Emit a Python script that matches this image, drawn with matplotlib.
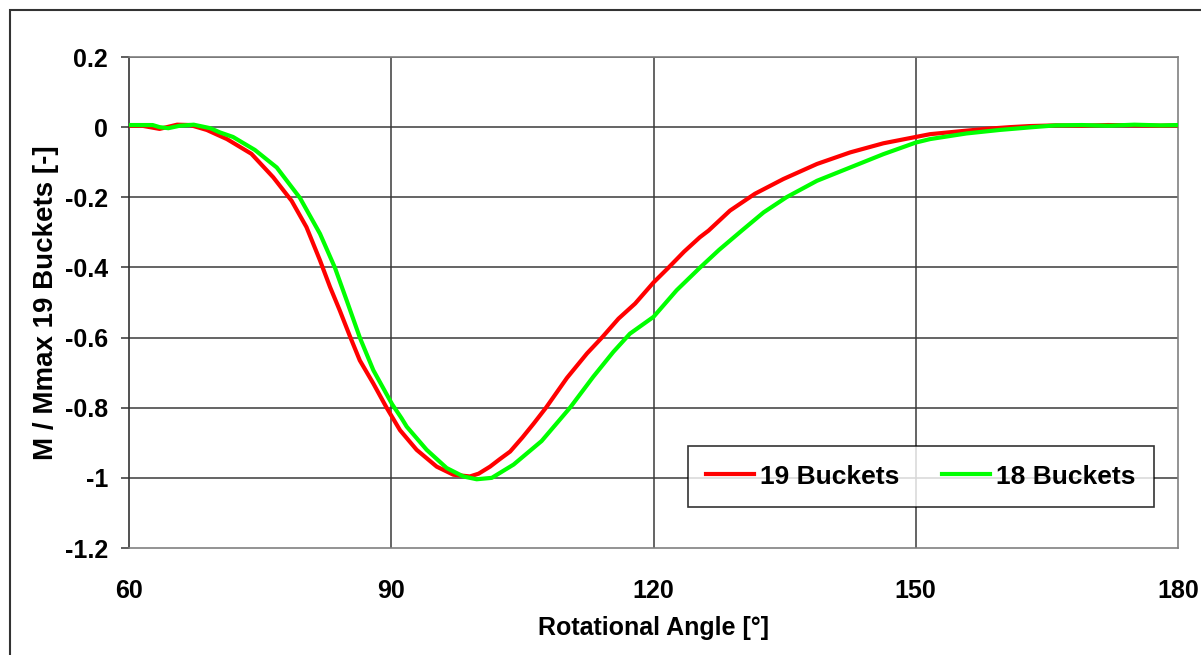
import matplotlib
matplotlib.use("Agg")
import matplotlib.pyplot as plt
from matplotlib.patches import Rectangle

# ---- data ----
angle_19 = [60.0, 61.5, 63.5, 65.5, 67.0, 68.9, 70.4, 71.2, 74.0, 76.5, 78.6, 80.3,
            81.85, 83.0, 84.1, 85.3, 86.4, 87.95, 89.47, 91.0, 92.9, 95.2, 97.1, 99.0,
            100.0, 101.3, 102.4, 103.6, 105.0, 106.3, 107.7, 110.1, 112.4, 114.1, 116.0,
            117.9, 120.0, 121.7, 123.5, 125.3, 126.3, 128.75, 131.6, 134.85, 138.7, 142.5,
            146.3, 150.0, 151.65, 155.8, 158.5, 160.8, 163.0, 166.0, 169.0, 172.0, 175.0,
            178.0, 180.0]
m_19 = [0.004, 0.004, -0.005, 0.007, 0.006, -0.008, -0.025, -0.034, -0.076, -0.143, -0.21,
        -0.285, -0.38, -0.456, -0.522, -0.598, -0.665, -0.731, -0.8, -0.864, -0.92, -0.968,
        -0.991, -0.996, -0.988, -0.968, -0.947, -0.925, -0.885, -0.845, -0.8, -0.715, -0.645,
        -0.6, -0.546, -0.503, -0.443, -0.401, -0.355, -0.314, -0.295, -0.238, -0.19, -0.148,
        -0.105, -0.072, -0.046, -0.028, -0.02, -0.01, -0.004, 0.0, 0.003, 0.005, 0.004,
        0.006, 0.005, 0.004, 0.005]

angle_18 = [60.0, 61.5, 62.7, 63.5, 64.5, 65.8, 67.4, 69.3, 70.4, 71.9, 74.4, 76.9, 79.56,
            81.85, 83.56, 84.9, 86.42, 87.95, 90.1, 91.18, 91.77, 94.05, 96.34, 98.25, 99.77,
            101.5, 104.0, 107.2, 110.45, 113.1, 115.4, 117.3, 120.0, 122.65, 125.3, 127.5,
            130.1, 132.6, 135.2, 138.7, 142.5, 146.3, 150.0, 151.65, 155.8, 159.6, 163.4,
            166.0, 169.0, 172.0, 175.0, 178.0, 180.0]
m_18 = [0.006, 0.006, 0.006, 0.0, -0.003, 0.004, 0.007, -0.003, -0.015, -0.028, -0.065,
        -0.115, -0.202, -0.304, -0.401, -0.494, -0.601, -0.693, -0.79, -0.83, -0.854, -0.92,
        -0.972, -0.996, -1.004, -1.0, -0.962, -0.895, -0.8, -0.712, -0.641, -0.589, -0.541,
        -0.465, -0.401, -0.35, -0.295, -0.243, -0.2, -0.153, -0.115, -0.077, -0.044, -0.034,
        -0.018, -0.008, 0.0, 0.005, 0.006, 0.004, 0.007, 0.005, 0.006]

x_ticks = [60, 90, 120, 150, 180]
y_ticks = [0.2, 0, -0.2, -0.4, -0.6, -0.8, -1, -1.2]
y_tick_labels = ["0.2", "0", "-0.2", "-0.4", "-0.6", "-0.8", "-1", "-1.2"]

plt.rcParams['font.family'] = ['Liberation Sans', 'DejaVu Sans']
plt.rcParams['font.weight'] = 'bold'
FS = 18

W, H = 1201, 655
fig = plt.figure(figsize=(W / 100, H / 100), dpi=100)
fig.patch.set_facecolor('white')

# outer chart border (cut off at right/bottom like the reference)
fig.patches.append(Rectangle((10 / W, -0.2), 1.2, (1 - 10 / H) + 0.2,
                             transform=fig.transFigure, fill=False,
                             edgecolor='#333333', linewidth=1.5))

ax = fig.add_axes([129 / W, 1 - 548 / H, (1178 - 129) / W, (548 - 57) / H])
ax.set_xlim(60, 180)
ax.set_ylim(-1.2, 0.2)

for v in x_ticks[1:-1]:
    ax.axvline(v, color='#3a3a3a', lw=1.1, zorder=1)
for v in y_ticks:
    if v not in (0.2, -1.2):
        ax.axhline(v, color='#3a3a3a', lw=1.1, zorder=1)
ax.axhline(0.2, color='#3a3a3a', lw=1.1, zorder=1)

ax.plot(angle_19, m_19, color='#ff0000', lw=3, label='19 Buckets', zorder=3)
ax.plot(angle_18, m_18, color='#00ff00', lw=3, label='18 Buckets', zorder=3)

for s in ax.spines.values():
    s.set_color('#808080')
    s.set_linewidth(1.2)
ax.spines['left'].set_color('#333333')

ax.set_xticks(x_ticks)
ax.set_xticklabels([str(t) for t in x_ticks])
ax.set_yticks(y_ticks)
ax.set_yticklabels(y_tick_labels)
ax.tick_params(axis='x', length=0, pad=22, labelsize=FS)
ax.tick_params(axis='y', length=6, width=1.1, color='#333333', pad=9, labelsize=FS)
for lab in ax.get_xticklabels() + ax.get_yticklabels():
    lab.set_fontweight('bold')

ax.set_xlabel('Rotational Angle [°]', fontsize=FS, fontweight='bold', labelpad=10)
ax.set_ylabel('M / Mmax 19 Buckets [-]', fontsize=20, fontweight='bold', labelpad=4)

leg = ax.legend(loc='center', bbox_to_anchor=(921 / W, 1 - 476.5 / H),
                bbox_transform=fig.transFigure, ncol=2, frameon=True, fancybox=False,
                edgecolor='black', handlelength=1.8, handletextpad=0.25,
                columnspacing=1.6, borderpad=0.7, prop={'weight': 'bold', 'size': FS + 1})
leg.get_frame().set_linewidth(1.2)
leg.set_zorder(5)

fig.savefig('out.png', dpi=100, facecolor='white')
